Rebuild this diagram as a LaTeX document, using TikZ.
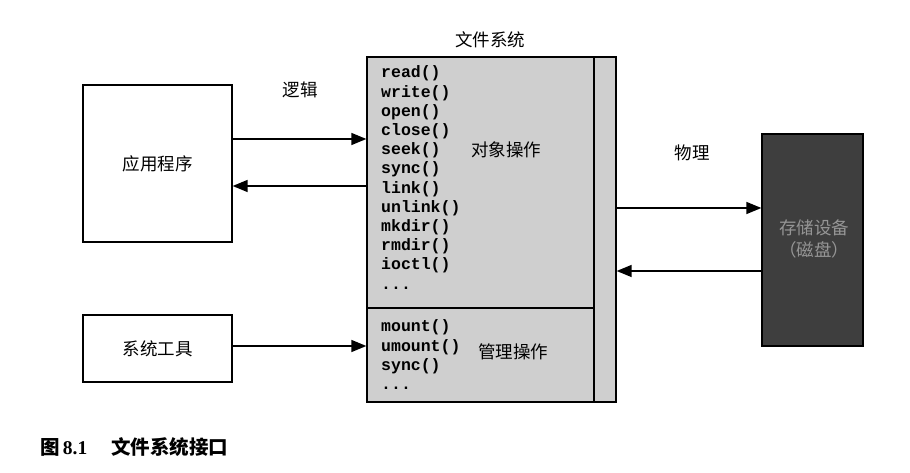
\documentclass[tikz,border=0pt]{standalone}
\usepackage{fontspec}
\setmainfont{Liberation Serif}
\newfontfamily\cjk{Noto Sans CJK SC}
\newfontfamily\codefont{Liberation Mono}
\usetikzlibrary{arrows.meta}
\definecolor{fsgray}{HTML}{CFCFCF}
\definecolor{diskgray}{HTML}{3E3E3E}
\definecolor{disktext}{HTML}{959595}
\tikzset{
  box/.style={draw=black, line width=1.3pt, rectangle, inner sep=0pt},
  lbl/.style={font=\cjk\fontsize{17.5}{20}\selectfont, inner sep=0pt},
  code/.style={font=\codefont\bfseries\fontsize{16.5}{19}\selectfont, anchor=base west, inner sep=0pt},
  arr/.style={line width=1.4pt, -{Triangle[length=15pt,width=12pt]}},
}
\begin{document}
\begin{tikzpicture}[x=1pt,y=1pt]
\useasboundingbox (0,0) rectangle (910,473);
% boxes
\node[box, minimum width=149pt, minimum height=157pt] (app) at (157.5,309.5) {};
\node[lbl] (applbl) at (app.center) {应用程序};
\node[box, minimum width=149pt, minimum height=67pt] (tools) at (157.5,124.5) {};
\node[lbl] (toolslbl) at (tools.center) {系统工具};
\node[box, fill=fsgray, minimum width=249pt, minimum height=345pt] (fs) at (491.5,243.5) {};
\coordinate (vtop) at (594,416);
\coordinate (vbot) at (594,71);
\draw[line width=1.3pt] (vtop) -- (vbot);
\coordinate (hdiv) at (594,165);
\draw[line width=1.3pt] (fs.west |- hdiv) -- (hdiv);
\node[box, fill=diskgray, minimum width=101pt, minimum height=212pt] (disk) at (812.5,233) {};
\node[lbl, text=disktext, align=center, font=\cjk\fontsize{17.5}{22}\selectfont] (disklbl) at (814,234) {存储设备\\（磁盘）};
% titles and labels
\node[lbl] (fstitle) at (490,433) {文件系统};
\node[lbl] (logic) at (300,383) {逻辑};
\node[lbl] (phys) at (692,320) {物理};
\node[lbl] (objop) at (506,323) {对象操作};
\node[lbl] (mgmtop) at (513,121) {管理操作};
% code lines
\foreach \t [count=\i] in {read(),write(),open(),close(),seek(),sync(),link(),unlink(),mkdir(),rmdir(),ioctl()}
  \node[code] (c\i) at (381,{395-19.2*(\i-1)}) {\t};
\node[code] (c12) at (381,{395-19.2*11}) {.{}.{}.};
\foreach \t [count=\i] in {mount(),umount(),sync()}
  \node[code] (m\i) at (381,{141-19.2*(\i-1)}) {\t};
\node[code] (m4) at (381,{141-19.2*3}) {.{}.{}.};
% arrows
\coordinate (y1) at (0,334);
\coordinate (y2) at (0,287);
\coordinate (y3) at (0,127);
\coordinate (y4) at (0,265);
\coordinate (y5) at (0,202);
\draw[arr] (app.east |- y1) -- (fs.west |- y1);
\draw[arr] (fs.west |- y2) -- (app.east |- y2);
\draw[arr] (tools.east |- y3) -- (fs.west |- y3);
\draw[arr] (fs.east |- y4) -- (disk.west |- y4);
\draw[arr] (disk.west |- y5) -- (fs.east |- y5);
% caption
\node[anchor=west, inner sep=0pt, font=\fontsize{19.5}{22}\selectfont] (cap) at (40,26)
  {{\cjk\bfseries 图}\,{\bfseries 8.1}\hspace{24pt}{\cjk\bfseries 文件系统接口}};
\end{tikzpicture}
\end{document}
